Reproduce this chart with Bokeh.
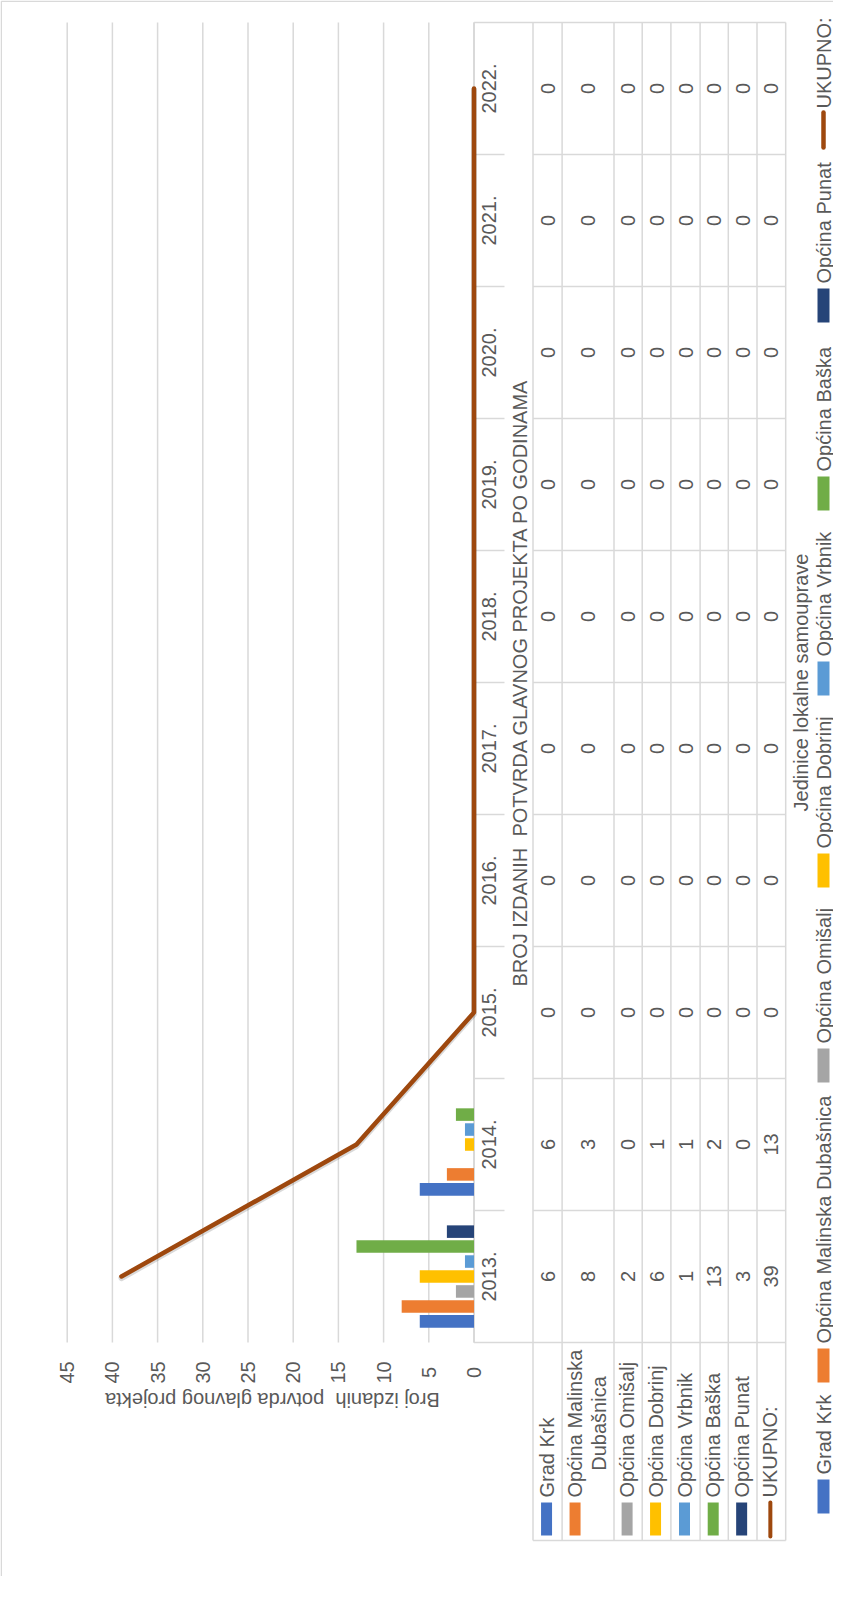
import numpy as np
from bokeh.plotting import figure
from bokeh.models import ColumnDataSource, Range1d
from bokeh.transform import dodge
from bokeh.core.properties import value
from bokeh.embed import file_html
from bokeh.resources import INLINE

# ---------------- data ----------------
years = ["2013.", "2014.", "2015.", "2016.", "2017.", "2018.", "2019.", "2020.", "2021.", "2022."]
series_names = ["Grad Krk", "Općina Malinska Dubašnica", "Općina Omišalj", "Općina Dobrinj",
                "Općina Vrbnik", "Općina Baška", "Općina Punat"]
grad_krk = [6, 6, 0, 0, 0, 0, 0, 0, 0, 0]
malinska_dubasnica = [8, 3, 0, 0, 0, 0, 0, 0, 0, 0]
omisalj = [2, 0, 0, 0, 0, 0, 0, 0, 0, 0]
dobrinj = [6, 1, 0, 0, 0, 0, 0, 0, 0, 0]
vrbnik = [1, 1, 0, 0, 0, 0, 0, 0, 0, 0]
baska = [13, 2, 0, 0, 0, 0, 0, 0, 0, 0]
punat = [3, 0, 0, 0, 0, 0, 0, 0, 0, 0]
total_name = "UKUPNO:"
ukupno = [39, 13, 0, 0, 0, 0, 0, 0, 0, 0]
value_ticks = [0, 5, 10, 15, 20, 25, 30, 35, 40, 45]
title_text = "BROJ IZDANIH\u00a0 POTVRDA GLAVNOG PROJEKTA PO GODINAMA"
value_axis_title = "Broj izdanih\u00a0 potvrda glavnog projekta"
category_axis_title = "Jedinice lokalne samouprave"

series_values = [grad_krk, malinska_dubasnica, omisalj, dobrinj, vrbnik, baska, punat]
colors = ["#4472C4", "#ED7D31", "#A5A5A5", "#FFC000", "#5B9BD5", "#70AD47", "#264478"]
line_color = "#9E480E"
text_color = "#595959"
rule_color = "#d9d9d9"
FONT = value("Liberation Sans")
FS = "20px"

# ---------------- geometry (page pixels -> data) ----------------
W, H = 833, 1576
ZERO_X = 481.5        # page x of value 0
PX_PER_UNIT = 9.04    # pixels per value unit
FIRST_CENTER_Y = 1284 # page y of the 2013 band centre
BAND = 132


def vx(X):
    return (ZERO_X - X) / PX_PER_UNIT


def vy(Y):
    return (FIRST_CENTER_Y - Y) / BAND


p = figure(width=W, height=H,
           x_range=Range1d(vx(8), vx(8 + W)), y_range=Range1d(vy(8 + H), vy(8)),
           output_backend="svg", toolbar_location=None, min_border=0,
           x_axis_location=None, y_axis_location=None)
p.grid.visible = False
p.outline_line_color = None
p.background_fill_color = "white"
p.border_fill_color = "white"

n = len(years)
idx = list(range(n))

# chart border (top and left edges)
p.segment(x0=[vx(8.75), vx(8.75)], y0=[vy(8.75), vy(8.75)], x1=[vx(8 + W), vx(8.75)], y1=[vy(8.75), vy(8 + H)],
          line_color=rule_color, line_width=1.5)

# grid lines
p.segment(x0=value_ticks, y0=-0.5, x1=value_ticks, y1=n - 0.5, line_color=rule_color, line_width=1.5)

# table / axis rules
TABLE_COLS = [540.5, 569.6, 621.5, 649.7, 678.4, 707.6, 735.8, 764.5, 793.2]
TABLE_BOTTOM = 1548
p.segment(x0=[vx(X) for X in TABLE_COLS], y0=n - 0.5, x1=[vx(X) for X in TABLE_COLS], y1=vy(TABLE_BOTTOM),
          line_color=rule_color, line_width=1.5)
p.segment(x0=[0], y0=-0.5, x1=[0], y1=n - 0.5, line_color=rule_color, line_width=2)
seps = [k - 0.5 for k in range(n + 1)]
inner = seps[1:-1]
p.segment(x0=vx(TABLE_COLS[0]), y0=inner, x1=vx(TABLE_COLS[-1]), y1=inner, line_color=rule_color, line_width=1.5)
p.segment(x0=vx(ZERO_X), y0=inner, x1=vx(512), y1=inner, line_color=rule_color, line_width=1.5)
p.segment(x0=vx(ZERO_X), y0=[seps[0], seps[-1]], x1=vx(TABLE_COLS[-1]), y1=[seps[0], seps[-1]],
          line_color=rule_color, line_width=1.5)
p.segment(x0=[vx(TABLE_COLS[0])], y0=vy(TABLE_BOTTOM), x1=[vx(TABLE_COLS[-1])], y1=vy(TABLE_BOTTOM),
          line_color=rule_color, line_width=1.5)

# bars
data = {"idx": idx}
for k, vals in enumerate(series_values):
    data[f"s{k}"] = vals
data["total"] = ukupno
src = ColumnDataSource(data)
STEP = 0.1133
for k in range(len(series_values)):
    p.hbar(y=dodge("idx", (k - 3) * STEP), left=0, right=f"s{k}", height=0.095,
           source=src, fill_color=colors[k], line_color=None)

# total line (with a soft shadow)
p.line(x="total", y=dodge("idx", -0.012), source=src, line_color="#000000", line_alpha=0.15, line_width=6,
       line_join="round", line_cap="round")
p.line(x="total", y="idx", source=src, line_color=line_color, line_width=4.5,
       line_join="round", line_cap="round")

txt = dict(text_font=FONT, text_font_size=FS, text_color=text_color)

# category labels (years)
p.text(x=vx(496.5), y=idx, text=years, angle=np.pi / 2, text_align="center", text_baseline="middle", **txt)

# value tick labels and axis title
p.text(x=value_ticks, y=vy(1380), text=[str(t) for t in value_ticks], angle=np.pi / 2,
       text_align="center", text_baseline="middle", **txt)
p.text(x=[vx(280)], y=[vy(1407)], text=[value_axis_title], angle=np.pi,
       text_align="center", text_baseline="middle", **txt)

# chart title
p.text(x=[vx(527)], y=[vy(690)], text=[title_text], angle=np.pi / 2,
       text_align="center", text_baseline="middle", **txt)

# data table values
all_values = series_values + [ukupno]
col_centers = [(TABLE_COLS[i] + TABLE_COLS[i + 1]) / 2 for i in range(len(TABLE_COLS) - 1)]
for c, vals in zip(col_centers, all_values):
    p.text(x=vx(c), y=idx, text=[str(v) for v in vals], angle=np.pi / 2,
           text_align="center", text_baseline="middle", **txt)

# data table row headers with legend keys
HEADER_TEXT_START = 1505
KEY_CENTER_Y = 1526.5
wrapped = {"Općina Malinska Dubašnica": ["Općina Malinska", "Dubašnica"]}
for k, name in enumerate(series_names + [total_name]):
    c = col_centers[k] - 1
    lines = wrapped.get(name, [name])
    if len(lines) == 1:
        p.text(x=[vx(c)], y=[vy(HEADER_TEXT_START)], text=[name], angle=np.pi / 2,
               text_align="left", text_baseline="middle", **txt)
    else:
        p.text(x=[vx(c - 12)], y=[vy(HEADER_TEXT_START)], text=[lines[0]], angle=np.pi / 2,
               text_align="left", text_baseline="middle", **txt)
        p.text(x=[vx(c + 12)], y=[vy(1431)], text=[lines[1]], angle=np.pi / 2,
               text_align="center", text_baseline="middle", **txt)
    kx = c if len(lines) == 1 else c - 12
    if k < len(series_names):
        p.rect(x=[vx(kx)], y=[vy(KEY_CENTER_Y)], width=11, height=33, width_units="screen",
               height_units="screen", fill_color=colors[k], line_color=None)
    else:
        p.segment(x0=[vx(kx)], y0=[vy(1510)], x1=[vx(kx)], y1=[vy(1544)], line_color=line_color,
                  line_width=4, line_cap="round")

# legend (rotated, right side)
LEG_X = 831
LEGEND_KEY_BOTTOM = [1521, 1390, 1090, 895, 703, 518, 330, 155]
for k, name in enumerate(series_names + [total_name]):
    b = LEGEND_KEY_BOTTOM[k]
    if k < len(series_names):
        p.rect(x=[vx(LEG_X)], y=[vy(b - 17)], width=12, height=34, width_units="screen",
               height_units="screen", fill_color=colors[k], line_color=None)
    else:
        p.segment(x0=[vx(LEG_X)], y0=[vy(b)], x1=[vx(LEG_X)], y1=[vy(b - 35)], line_color=line_color,
                  line_width=4.5, line_cap="round")
    p.text(x=[vx(LEG_X)], y=[vy(b - 39)], text=[name], angle=np.pi / 2,
           text_align="left", text_baseline="middle", **txt)

p.text(x=[vx(808)], y=[vy(690)], text=[category_axis_title], angle=np.pi / 2,
       text_align="center", text_baseline="middle", **txt)

open("out.html", "w").write(file_html(p, INLINE))
